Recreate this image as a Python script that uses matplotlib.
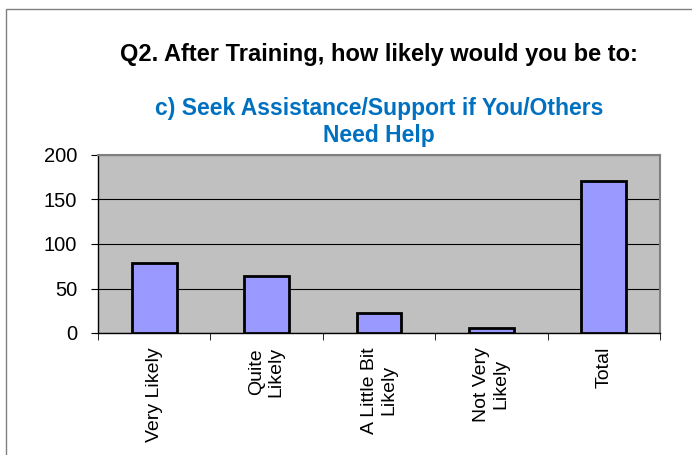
import matplotlib.pyplot as plt
from matplotlib.patches import Rectangle

categories = ["Very Likely", "Quite\nLikely", "A Little Bit\nLikely", "Not Very\nLikely", "Total"]
counts = [79, 64, 22, 6, 171]
y_ticks = [0, 50, 100, 150, 200]

title = "Q2. After Training, how likely would you be to:"
subtitle = "c) Seek Assistance/Support if You/Others\nNeed Help"

plt.rcParams["font.family"] = ["Liberation Sans", "DejaVu Sans"]

fig = plt.figure(figsize=(6.92, 4.55), dpi=100)
fig.patch.set_facecolor("white")

# outer chart frame (runs off the right and bottom edges)
fig.patches.append(Rectangle((6 / 692, -0.1), 1.2, 1 - 9 / 455 + 0.1,
                             transform=fig.transFigure, fill=False,
                             edgecolor="#808080", linewidth=1.0))

ax = fig.add_axes([98 / 692, 1 - 333 / 455, 562 / 692, 178 / 455])
ax.set_facecolor("#C0C0C0")

x = list(range(len(categories)))
ax.bar(x, counts, width=0.4, color="#9999FF", edgecolor="black", linewidth=2, zorder=3)

ax.set_xlim(-0.5, len(categories) - 0.5)
ax.set_ylim(0, 200)
ax.set_yticks(y_ticks)
ax.set_yticklabels([str(v) for v in y_ticks], fontsize=14.5)
ax.yaxis.grid(True, color="black", linewidth=0.8, zorder=1)
ax.set_axisbelow(True)

ax.set_xticks(x)
ax.set_xticklabels(categories, rotation=90, fontsize=14, va="top", ha="center",
                   multialignment="center", linespacing=1.15)
ax.tick_params(axis="x", length=0, pad=10)
ax.set_xticks([i + 0.5 for i in range(-1, len(categories))], minor=True)
ax.tick_params(axis="x", which="minor", length=5, color="black", direction="out")
ax.tick_params(axis="y", length=5, color="black", direction="out", pad=10)

for side in ["top", "right"]:
    ax.spines[side].set_color("#808080")
    ax.spines[side].set_linewidth(1.5)
for side in ["left", "bottom"]:
    ax.spines[side].set_color("black")
    ax.spines[side].set_linewidth(1.0)

cx = (98 + 660) / 2 / 692
fig.text(cx, 1 - 55 / 455, title, ha="center", va="center",
         fontsize=17, fontweight="bold", color="black")
fig.text(cx, 1 - 122 / 455, subtitle, ha="center", va="center",
         fontsize=16.5, fontweight="bold", color="#0070C0", linespacing=1.2)

fig.savefig("out.png", dpi=100)
